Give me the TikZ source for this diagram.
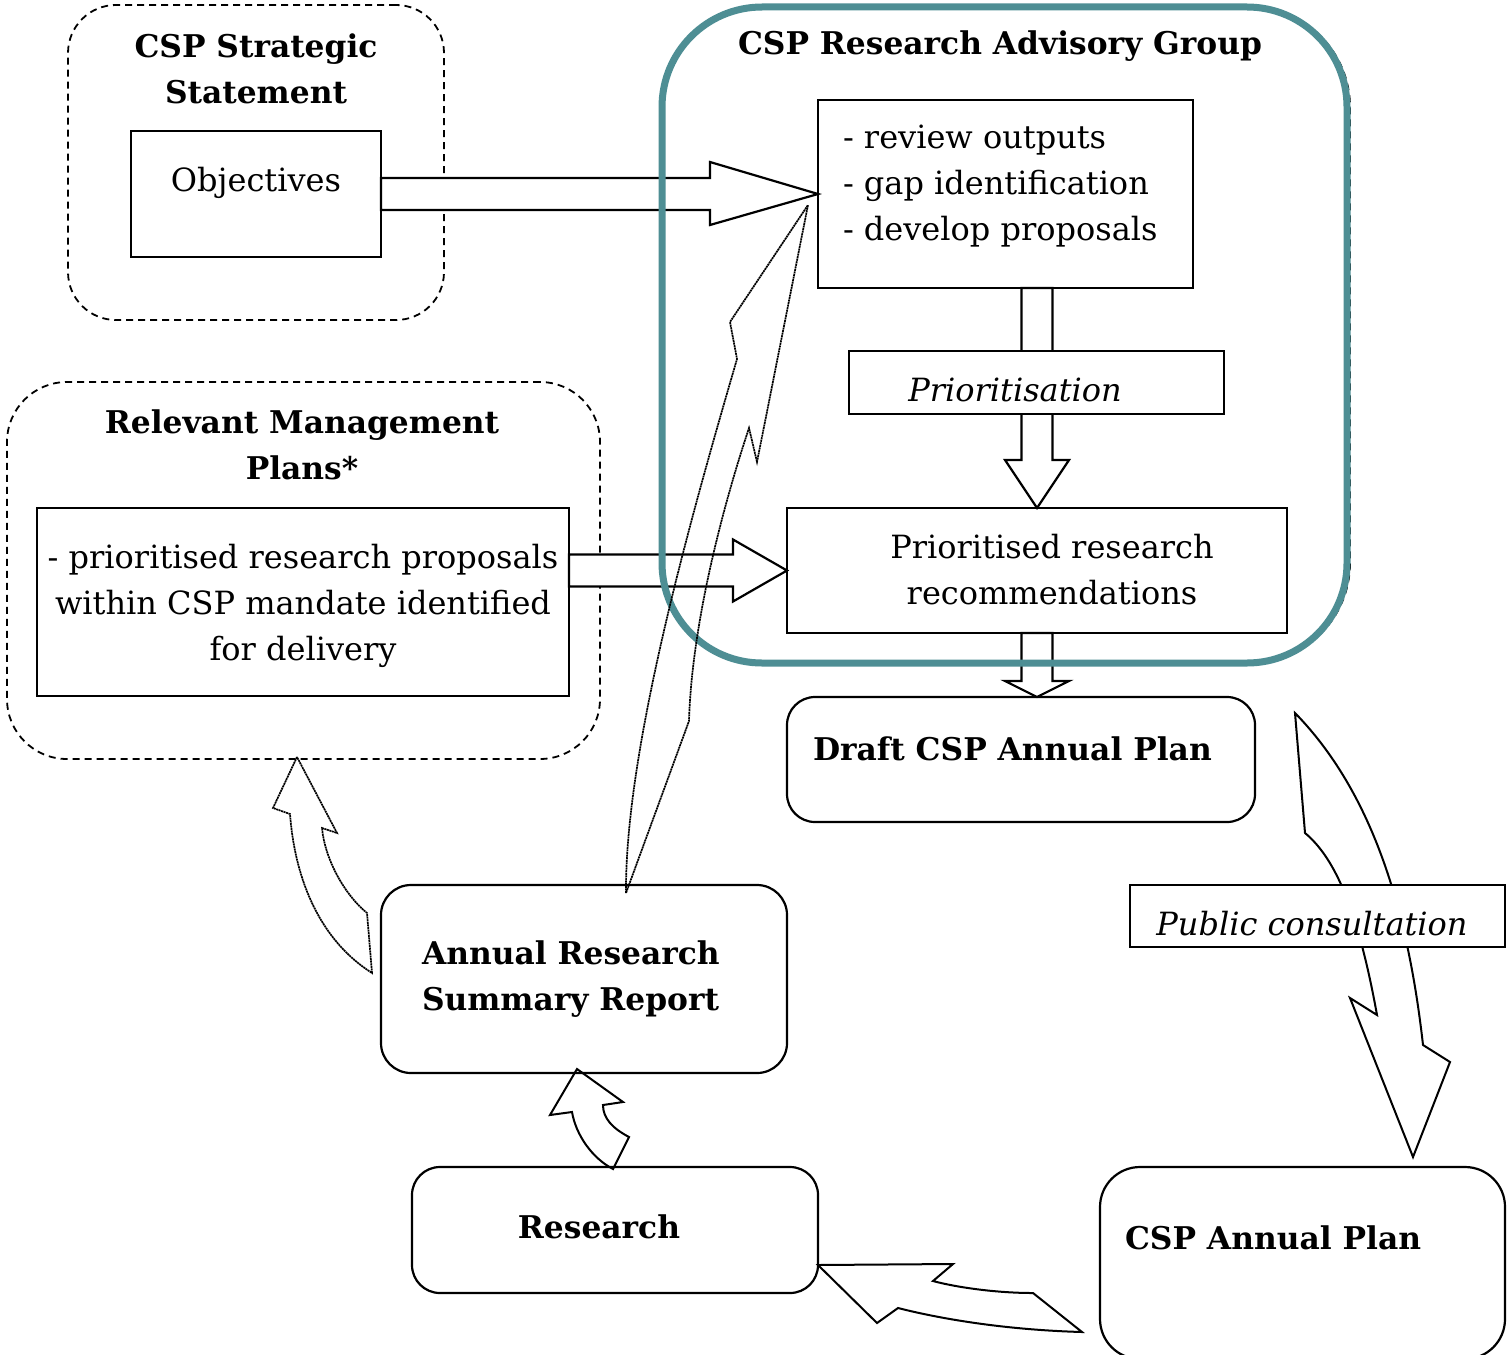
\documentclass[tikz,border=0pt]{standalone}
\usepackage{fontspec}
\setmainfont{DejaVu Serif}
\usetikzlibrary{calc}
\definecolor{tealc}{RGB}{78,142,148}
\newcommand\bodyfs{\fontsize{32}{46}\selectfont}
\newcommand\headfs{\fontsize{31.3}{46}\selectfont\bfseries}
\tikzset{
  sqbox/.style={draw, line width=2.2pt, fill=white, inner sep=0pt, outer sep=0pt},
  rbox/.style={draw, line width=2.2pt, fill=white, rounded corners=28pt, inner sep=0pt, outer sep=0pt},
  dbox/.style={draw, line width=1.8pt, dash pattern=on 7pt off 5pt, inner sep=0pt, outer sep=0pt},
  harrow/.style={draw, line width=2.2pt, fill=white, line join=miter},
  carrow/.style={draw, line width=2pt, line join=miter},
  dotarrow/.style={draw, line width=1.7pt, dash pattern=on 2pt off 0.6pt, line join=miter},
  txt/.style={inner sep=0pt, outer sep=0pt},
}
\begin{document}
\begin{tikzpicture}[x=1pt, y=-1pt]
\clip (0,0) rectangle (1511,1354);
\fill[white] (0,0) rectangle (1511,1354);

% containers
\node[dbox, rounded corners=48pt, minimum width=376pt, minimum height=315pt] (css) at (256,162.5) {};
\node[dbox, rounded corners=60pt, minimum width=593pt, minimum height=377pt] (rmp) at (303.5,570.5) {};
\node[dbox, rounded corners=100pt, minimum width=688pt, minimum height=656pt] (ragd) at (1006,335) {};

% boxes
\node[sqbox, minimum width=250pt, minimum height=126pt] (obj) at (256,194) {};
\node[sqbox, minimum width=532pt, minimum height=188pt] (rmpin) at (303,602) {};
\node[sqbox, minimum width=375pt, minimum height=188pt] (rev) at (1005.5,194) {};
\node[sqbox, minimum width=500pt, minimum height=125pt] (prio) at (1037,570.5) {};
\node[rbox, minimum width=468pt, minimum height=125pt] (draft) at (1021,759.5) {};
\node[rbox, rounded corners=30pt, minimum width=406pt, minimum height=188pt] (arsr) at (584,979) {};
\node[rbox, minimum width=406pt, minimum height=126pt] (res) at (615,1230) {};
\node[rbox, rounded corners=40pt, minimum width=405pt, minimum height=192pt] (cap) at (1302.5,1263) {};

% straight hollow arrows
\draw[harrow] ($(obj.east)+(0,-16)$) -- ($(rev.west)+(-108,-16)$) -- ($(rev.west)+(-108,-32)$) -- (rev.west)
   -- ($(rev.west)+(-108,31)$) -- ($(rev.west)+(-108,16)$) -- ($(obj.east)+(0,16)$) -- cycle;
\coordinate (a2s) at (rmpin.east |- prio.west);
\draw[harrow] ($(a2s)+(0,-16)$) -- ($(prio.west)+(-54,-16)$) -- ($(prio.west)+(-54,-31)$) -- (prio.west)
   -- ($(prio.west)+(-54,31)$) -- ($(prio.west)+(-54,16)$) -- ($(a2s)+(0,16)$) -- cycle;
\coordinate (a3s) at (rev.south -| prio.north);
\draw[harrow] ($(a3s)+(-15.5,0)$) -- ($(prio.north)+(-15.5,-48)$) -- ($(prio.north)+(-32,-48)$) -- (prio.north)
   -- ($(prio.north)+(32,-48)$) -- ($(prio.north)+(15.5,-48)$) -- ($(a3s)+(15.5,0)$) -- cycle;
\coordinate (a4e) at (draft.north -| prio.south);
\draw[harrow] ($(prio.south)+(-15.5,0)$) -- ($(a4e)+(-15.5,-16)$) -- ($(a4e)+(-32,-16)$) -- (a4e)
   -- ($(a4e)+(32,-16)$) -- ($(a4e)+(15.5,-16)$) -- ($(prio.south)+(15.5,0)$) -- cycle;

% prioritisation label box over arrow
\node[sqbox, minimum width=375pt, minimum height=63pt] (prior) at (1036.5,382.5) {};

% teal group
\node[draw=tealc, line width=7pt, rounded corners=100pt, minimum width=685pt, minimum height=656pt, inner sep=0pt, outer sep=0pt] (rag) at (1004.5,335) {};

% curved arrow: draft -> public consultation -> CSP annual plan
\draw[carrow, fill=white] (1295,713) -- (1305,833) .. controls (1335,858) and (1358,910) .. (1377,1015)
   -- (1350,998) -- (1413,1157) -- (1450,1062) -- (1423,1045)
   .. controls (1410,930) and (1380,800) .. (1295,713) -- cycle;
\node[sqbox, minimum width=375pt, minimum height=62pt] (pub) at (1317.5,916) {};

% CSP annual plan -> research
\draw[carrow] (818,1265) -- (953,1264) -- (933,1281) .. controls (955,1287) and (995,1293) .. (1033,1293)
   -- (1082,1332) .. controls (1010,1330) and (945,1320) .. (898,1308) -- (877,1323) -- cycle;

% research -> annual research summary report
\draw[carrow] (613,1169) -- (629,1137) .. controls (612,1128) and (603,1118) .. (603,1105)
   -- (623,1102) -- (577,1069) -- (550,1115) -- (572,1112)
   .. controls (576,1135) and (592,1158) .. (613,1169) -- cycle;

% annual research summary report -> relevant management plans
\draw[dotarrow] (297,757) -- (273,808) -- (290,814) .. controls (295,880) and (320,940) .. (372,973)
   -- (367,913) .. controls (345,895) and (325,860) .. (322,828) -- (337,833) -- cycle;

% annual research summary report -> advisory group
\draw[dotarrow] (626,893) .. controls (625,750) and (690,520) .. (737,359) -- (730,322) -- (808,205)
   -- (757,462) -- (749,428) .. controls (725,500) and (692,620) .. (689,721) -- cycle;

% texts
\node[txt, font=\headfs, align=center] (cssT) at (256,69) {CSP Strategic\\Statement};
\node[txt, font=\bodyfs] (objT) at (256,183) {Objectives};
\node[txt, font=\headfs] (ragT) at (1000,46) {CSP Research Advisory Group};
\node[txt, font=\bodyfs, align=left, anchor=west] (revT) at (843,186) {- review outputs\\- gap identification\\- develop proposals};
\node[txt, font=\bodyfs\itshape] (priorT) at (1015,390) {Prioritisation};
\node[txt, font=\bodyfs, align=center] (prioT) at (1052,570) {Prioritised research\\recommendations};
\node[txt, font=\headfs, align=center] (rmpT) at (302,445) {Relevant Management\\Plans*};
\node[txt, font=\bodyfs, align=center] (rmpinT) at (303,606) {- prioritised research proposals\\within CSP mandate identified\\for delivery};
\node[txt, font=\headfs, anchor=west] (draftT) at (813,749) {Draft CSP Annual Plan};
\node[txt, font=\headfs, align=left, anchor=west] (arsrT) at (422,979) {Annual Research\\Summary Report};
\node[txt, font=\headfs] (resT) at (599,1227) {Research};
\node[txt, font=\headfs, anchor=west] (capT) at (1125,1238) {CSP Annual Plan};
\node[txt, font=\bodyfs\itshape] (pubT) at (1312,924) {Public consultation};
\end{tikzpicture}
\end{document}
